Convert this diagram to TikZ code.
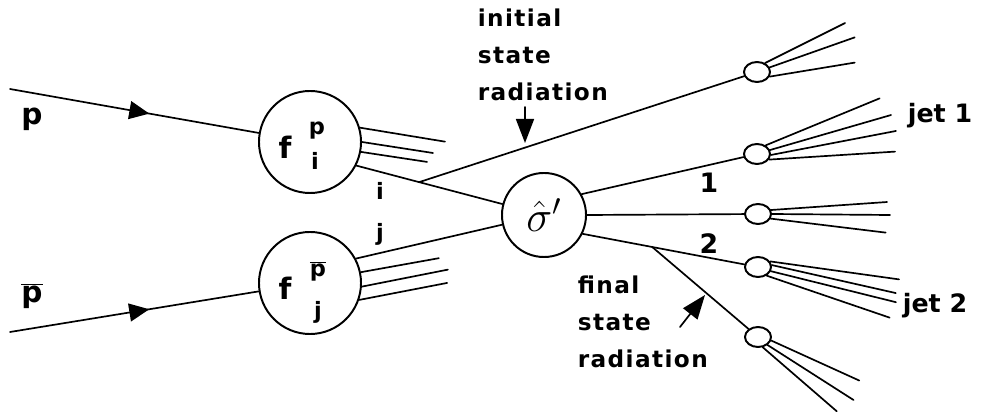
\documentclass[tikz,border=0pt]{standalone}
\usepackage{fontspec}
\setsansfont{DejaVu Sans}
\newfontfamily\plotfont[LetterSpace=6]{DejaVu Sans}
\usetikzlibrary{arrows.meta,shapes.geometric,decorations.markings}
\begin{document}
\begin{tikzpicture}[x=0.025cm,y=-0.025cm,line join=round,line cap=round,line width=1.2pt]
    \tikzset{pdf/.style={draw,circle,line width=1.4pt,minimum size=2.55cm,inner sep=0pt},
        xsec/.style={draw,circle,line width=1.4pt,minimum size=2.1cm,inner sep=0pt,font=\fontsize{20}{24}\selectfont},
        blob/.style={draw,ellipse,line width=1.4pt,minimum width=0.65cm,minimum height=0.5cm,inner sep=0pt},
        big/.style={font=\sffamily\bfseries\fontsize{21}{24}\selectfont,inner sep=0pt},
        small/.style={font=\sffamily\bfseries\fontsize{16}{18}\selectfont,inner sep=0pt},
        num/.style={font=\sffamily\bfseries\fontsize{19}{20}\selectfont,inner sep=0pt},
        jet/.style={font=\sffamily\bfseries\fontsize{18}{20}\selectfont,inner sep=0pt,anchor=west},
        txt/.style={font=\plotfont\bfseries\fontsize{16.5}{26.5}\selectfont,align=left,anchor=north west,inner sep=0pt},
        mid arrow/.style={postaction={decorate},decoration={markings,
            mark=at position #1 with {\arrow{Triangle[length=0.5cm,width=0.45cm]}}}},
        rad arrow/.style={-{Triangle[length=0.6cm,width=0.45cm]}}}
    \useasboundingbox (0,0) rectangle (982,419);
    % incoming beams
    \coordinate (pin) at (10,89);
    \coordinate (pbin) at (10,332);
    \node[big] (p) at (32,119) {p};
    \node[big] (pb) at (32,296) {$\overline{\mbox{p}}$};
    \node[pdf] (fi) at (310,142) {};
    \node[pdf] (fj) at (310,283) {};
    \node[big] (fil) at (285,147) {f};
    \node[small] (fip) at (317,131) {p};
    \node[small] (fii) at (315,161) {i};
    \node[big] (fjl) at (285,288) {f};
    \node[small] (fjp) at (318,271) {$\overline{\mbox{p}}$};
    \node[small] (fjj) at (318,312) {j};
    \draw[mid arrow=0.56] (pin) -- (fi);
    \draw[mid arrow=0.56] (pbin) -- (fj);
    \foreach \a/\x/\y in {16/85/14, 0/71/11, -11/66/10}
        \draw (fi.\a) -- ++(\x,\y);
    \foreach \a/\x/\y in {12/78/-14, -4/86/-17, -19/88/-17}
        \draw (fj.\a) -- ++(\x,\y);
    % hard scattering
    \node[xsec] (sig) at (544,215) {\scalebox{1.5}{$\hat{\sigma}'$}};
    \node[small] (il) at (380,191) {i};
    \node[small] (jl) at (380,234) {j};
    \draw (fi.-27) -- coordinate[pos=0.43] (isr) (sig);
    \draw (fj.28) -- (sig);
    \node[blob] (ub) at (757,72) {};
    \node[blob] (b1) at (757,154) {};
    \node[blob] (b0) at (758,214) {};
    \node[blob] (b2) at (758,267) {};
    \node[blob] (b3) at (758,337) {};
    \draw (isr) -- (ub);
    \draw (sig.29) -- (b1);
    \draw (sig.0) -- (b0);
    \draw (sig.-26) -- coordinate[pos=0.43] (fsr) (b2);
    \draw (fsr) -- (b3);
    \node[num] (n1) at (709,183) {1};
    \node[num] (n2) at (709,244) {2};
    % jets
    \foreach \a/\x/\y in {48/80/-40, 20/85/-30, -20/85/-14}
        \draw (ub.\a) -- ++(\x,\y);
    \foreach \a/\x/\y in {45/114/-47, 17/121/-35, -4/125/-24, -25/126/-8}
        \draw (b1.\a) -- ++(\x,\y);
    \foreach \a/\x/\y in {17/116/-8, 0/118/1, -20/115/14}
        \draw (b0.\a) -- ++(\x,\y);
    \foreach \a/\x/\y in {25/129/18, 8/124/28, -18/125/31, -45/123/42}
        \draw (b2.\a) -- ++(\x,\y);
    \foreach \a/\x/\y in {-15/88/40, -40/86/55, -65/74/64}
        \draw (b3.\a) -- ++(\x,\y);
    \node[jet] (jet1) at (907,116) {jet 1};
    \node[jet] (jet2) at (902,306) {jet 2};
    % radiation labels
    \node[txt] (isrtxt) at (477,8) {initial\\state\\radiation};
    \node[txt] (fsrtxt) at (577,275) {final\\state\\radiation};
    \coordinate (ia) at (525,107);
    \coordinate (ib) at (525,143);
    \coordinate (fa) at (680,327);
    \coordinate (fb) at (705,295);
    \draw[rad arrow] (ia) -- (ib);
    \draw[rad arrow] (fa) -- (fb);
\end{tikzpicture}
\end{document}
